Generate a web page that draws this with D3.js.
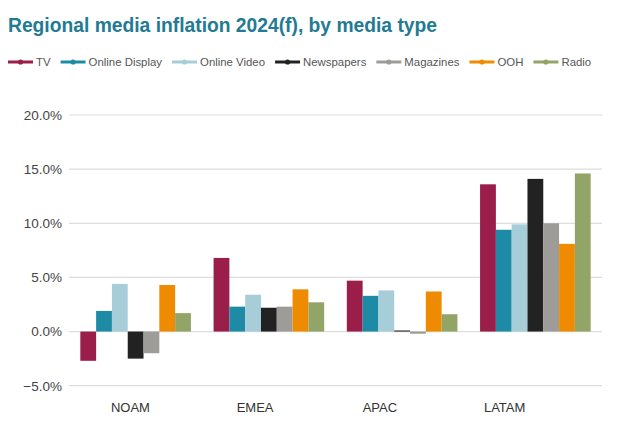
<!DOCTYPE html>
<html>
<head>
<meta charset="utf-8">
<script src="https://cdn.jsdelivr.net/npm/d3@7"></script>
<style>
  html, body { margin: 0; padding: 0; background: #ffffff; }
  svg { display: block; font-family: "Liberation Sans", Arial, sans-serif; }
</style>
</head>
<body>
<svg id="chart" width="620" height="429"></svg>
<script>
const regions = ["NOAM", "EMEA", "APAC", "LATAM"];
const mediaTypes = ["TV", "Online Display", "Online Video", "Newspapers", "Magazines", "OOH", "Radio"];
const colors = ["#9a1d4a", "#1d8aa6", "#a6cdd8", "#222222", "#9e9c98", "#ef8b00", "#92a466"];
// values (%) per region, in mediaTypes order
const noam  = [-2.7, 1.9, 4.4, -2.5, -2.0, 4.3, 1.7];
const emea  = [6.8, 2.3, 3.4, 2.2, 2.3, 3.9, 2.7];
const apac  = [4.7, 3.3, 3.8, 0.1, -0.2, 3.7, 1.6];
const latam = [13.6, 9.4, 9.9, 14.1, 10.0, 8.1, 14.6];
const yTicks = [-5, 0, 5, 10, 15, 20];
const title = "Regional media inflation 2024(f), by media type";

const seriesByRegion = [noam, emea, apac, latam];

const svg = d3.select("#chart");

// Title
svg.append("text")
  .attr("x", 8).attr("y", 32)
  .attr("fill", "#227a93")
  .attr("font-size", 21).attr("font-weight", "bold")
  .attr("textLength", 429).attr("lengthAdjust", "spacingAndGlyphs")
  .text(title);

// Legend
const color = d3.scaleOrdinal().domain(mediaTypes).range(colors);
const legend = svg.append("g").attr("transform", "translate(8,62)");
let lx = 0;
mediaTypes.forEach(m => {
  const g = legend.append("g").attr("transform", `translate(${lx},0)`);
  g.append("line").attr("x1", 0).attr("x2", 25).attr("y1", 0).attr("y2", 0)
    .attr("stroke", color(m)).attr("stroke-width", 3);
  g.append("circle").attr("cx", 12.5).attr("cy", 0).attr("r", 2.6).attr("fill", color(m));
  const t = g.append("text").attr("x", 28).attr("y", 4)
    .attr("fill", "#555").attr("font-size", 11.4).text(m);
  const w = t.node().getComputedTextLength();
  lx += 28 + w + 10;
});

// Scales
const x0 = d3.scaleBand().domain(regions).range([69, 602]).paddingInner(0.17).paddingOuter(0.085);
const x1 = d3.scaleBand().domain(mediaTypes).range([0, x0.bandwidth()]);
const y = d3.scaleLinear().domain([-5, 20]).range([385.7, 115]);
const xLabel = d3.scaleBand().domain(regions).range([68, 567]);

// Gridlines
const grid = svg.append("g");
grid.selectAll("line").data(yTicks).join("line")
  .attr("x1", 69).attr("x2", 602)
  .attr("y1", d => y(d)).attr("y2", d => y(d))
  .attr("stroke", "#dddddd").attr("stroke-width", 1.2);

// Y axis labels
const yAxis = d3.axisLeft(y).tickValues(yTicks).tickSize(0).tickPadding(0)
  .tickFormat(d => d3.format(".1f")(d) + "%");
const ya = svg.append("g").attr("transform", "translate(62,0)").call(yAxis);
ya.select(".domain").remove();
ya.selectAll("text").attr("font-size", 13.5).attr("fill", "#444")
  .attr("font-family", "'Liberation Sans', Arial, sans-serif");

// Bars
const rows = regions.map((r, i) => ({ region: r, values: mediaTypes.map((m, j) => ({ m, v: seriesByRegion[i][j] })) }));
const groups = svg.append("g").selectAll("g").data(rows).join("g")
  .attr("transform", d => `translate(${x0(d.region)},0)`);
groups.selectAll("rect").data(d => d.values).join("rect")
  .attr("x", d => x1(d.m))
  .attr("width", x1.bandwidth())
  .attr("y", d => y(Math.max(0, d.v)))
  .attr("height", d => Math.max(1, Math.abs(y(d.v) - y(0))))
  .attr("fill", d => color(d.m));

// X labels
const xAxis = d3.axisBottom(xLabel).tickSize(0).tickPadding(0);
const xa = svg.append("g").attr("transform", "translate(0,403)").call(xAxis);
xa.select(".domain").remove();
xa.selectAll("text").attr("font-size", 13).attr("fill", "#333")
  .attr("font-family", "'Liberation Sans', Arial, sans-serif");
</script>
</body>
</html>
